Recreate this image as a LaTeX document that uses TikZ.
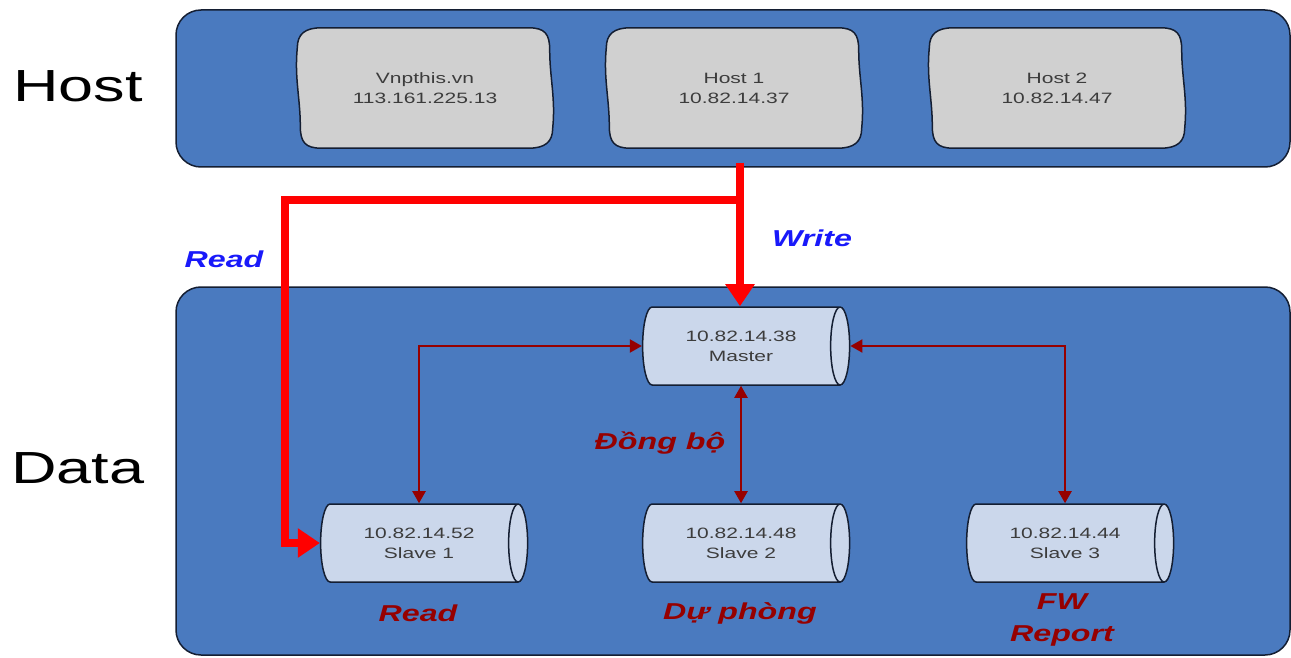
\documentclass[tikz,border=0pt]{standalone}
\usepackage{fontspec}
\setmainfont{Liberation Sans}
\newfontfamily\wide[FakeStretch=1.4]{Liberation Sans}
\usetikzlibrary{shapes.geometric,arrows.meta,calc}
\definecolor{panelblue}{RGB}{74,122,191}
\definecolor{hostgray}{RGB}{208,208,208}
\definecolor{cylfill}{RGB}{203,215,235}
\definecolor{darkred}{RGB}{150,0,0}
\definecolor{linkblue}{RGB}{25,25,250}
\definecolor{edgecol}{RGB}{20,30,50}
\definecolor{txtgray}{RGB}{60,60,60}
\tikzset{
  panel/.style={draw=edgecol, line width=1.5pt, fill=panelblue, rounded corners=25pt, inner sep=0pt},
  hostframe/.style={minimum width=255pt, minimum height=120pt, inner sep=0pt},
  hostoutline/.style={draw=edgecol, line width=1.5pt, fill=hostgray},
  hosttext/.style={align=center, font=\wide\fontsize{15}{20}\selectfont, text=txtgray},
  db/.style={cylinder, draw=edgecol, line width=1.5pt, cylinder uses custom fill,
    cylinder body fill=cylfill, cylinder end fill=cylfill, shape aspect=0.62,
    minimum width=78pt, minimum height=207pt, align=center, inner sep=0pt,
    font=\wide\fontsize{15}{20}\selectfont, text=txtgray},
  sync/.style={draw=darkred, line width=2pt, {Triangle[length=12pt,width=13pt]}-{Triangle[length=12pt,width=13pt]}},
  flow/.style={draw=red, line width=8pt, line join=miter, -{Triangle[length=22pt,width=28pt]}},
  lbl/.style={font=\wide\bfseries\itshape\fontsize{23}{32}\selectfont, align=center},
  side/.style={font=\wide\fontsize{45}{50}\selectfont, text=black}
}
\newcommand\wavybox[1]{%
  \path[hostoutline]
    ($(#1.north west)+(24,0)$) -- ($(#1.north east)+(-24,0)$)
    .. controls ($(#1.north east)+(-8,0)$) and ($(#1.north east)+(-3,6)$) .. ($(#1.north east)+(-3,22)$)
    .. controls ($(#1.north east)+(-3,50)$) and ($(#1.south east)+(3,-50)$) .. ($(#1.south east)+(0,-20)$)
    .. controls ($(#1.south east)+(0,-6)$) and ($(#1.south east)+(-8,0)$) .. ($(#1.south east)+(-24,0)$)
    -- ($(#1.south west)+(24,0)$)
    .. controls ($(#1.south west)+(8,0)$) and ($(#1.south west)+(3,-6)$) .. ($(#1.south west)+(3,-22)$)
    .. controls ($(#1.south west)+(3,-50)$) and ($(#1.north west)+(-3,50)$) .. ($(#1.north west)+(0,20)$)
    .. controls ($(#1.north west)+(0,6)$) and ($(#1.north west)+(8,0)$) .. cycle;}
\begin{document}
\begin{tikzpicture}[x=1pt,y=-1pt]
\useasboundingbox (0,0) rectangle (1291,658);
\fill[white] (0,0) rectangle (1291,658);

\node[panel, minimum width=1114pt, minimum height=157pt] (hostp) at (733,88.5) {};
\node[panel, minimum width=1114pt, minimum height=368pt] (datap) at (733,471) {};

\node[side] (hostlbl) at (78,86) {Host};
\node[side] (datalbl) at (78,468) {Data};

\node[hostframe] (vn) at (425,88) {};
\node[hostframe] (h1) at (734,88) {};
\node[hostframe] (h2) at (1057,88) {};
\wavybox{vn}
\wavybox{h1}
\wavybox{h2}
\node[hosttext] (vnt) at (vn) {Vnpthis.vn\\113.161.225.13};
\node[hosttext] (h1t) at (h1) {Host 1\\10.82.14.37};
\node[hosttext] (h2t) at (h2) {Host 2\\10.82.14.47};

\node[db] (master) at (741,346) {10.82.14.38\\Master};
\node[db] (s1) at (419,543) {10.82.14.52\\Slave 1};
\node[db] (s2) at (741,543) {10.82.14.48\\Slave 2};
\node[db] (s3) at (1065,543) {10.82.14.44\\Slave 3};

\draw[sync] (master.west) -| (s1.north);
\draw[sync] (master.east) -| (s3.north);
\draw[sync] (master.south) -- (s2.north);

\coordinate (top) at (740,163);
\coordinate (j) at (740,200);
\coordinate (bend) at (285,543);
\draw[flow] (top) -- (top |- master.north);
\draw[flow] (j) -| (bend) -- (s1.west);

\node[lbl, text=linkblue] (wr) at (812,238) {Write};
\node[lbl, text=linkblue] (rd) at (224,259) {Read};
\node[lbl, text=darkred] (sync) at (660,443) {Đồng bộ};
\node[lbl, text=darkred] (r1) at (418,613) {Read};
\node[lbl, text=darkred] (r2) at (740,613) {Dự phòng};
\node[lbl, text=darkred] (r3) at (1062,620) {FW\\Report};
\end{tikzpicture}
\end{document}
